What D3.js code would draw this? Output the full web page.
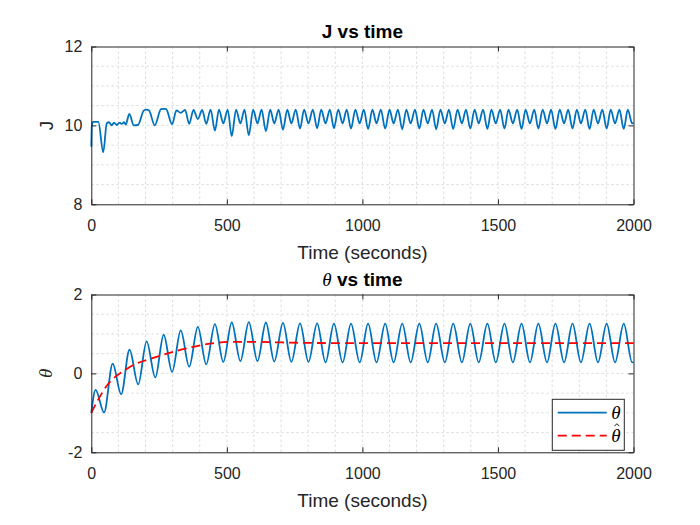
<!DOCTYPE html>
<html>
<head>
<meta charset="utf-8">
<script src="https://cdn.jsdelivr.net/npm/d3@7"></script>
<style>
  body { margin: 0; background: #fff; }
  svg { display: block; font-family: "Liberation Sans", Arial, sans-serif; }
</style>
</head>
<body>
<div id="chart"></div>
<script>
// ---- data ----
const xTicks = [0, 500, 1000, 1500, 2000];
const xMinor = [100, 200, 300, 400, 600, 700, 800, 900, 1100, 1200, 1300, 1400, 1600, 1700, 1800, 1900];
const jTicks = [8, 10, 12];
const jMinor = [8.5, 9, 9.5, 10.5, 11, 11.5];
const thetaTicks = [-2, 0, 2];
const thetaMinor = [-1.5, -1, -0.5, 0.5, 1, 1.5];

// J(t): extrema of the cost signal
const jTime = [
  0, 2, 6, 26, 44, 57, 65, 75, 84, 94, 104, 112, 121, 127, 140, 157, 172, 194, 204, 213, 234, 257, 267, 276,
  298, 314, 330, 346,   361, 377, 393, 409,   424, 440, 456, 471,   487, 503, 518, 534,
  550, 565, 581, 597,   613, 628, 644, 660,   675, 691, 707, 723,   738, 754, 770, 785,
  801, 817, 833, 848,   864, 880, 895, 911,   927, 942, 958, 974,   990, 1005, 1021, 1037,
  1052, 1068, 1084, 1100,   1115, 1131, 1147, 1162,   1178, 1194, 1210, 1225,   1241, 1257, 1272, 1288,
  1304, 1319, 1335, 1351,   1367, 1382, 1398, 1414,   1429, 1445, 1461, 1476,   1492, 1508, 1524, 1539,
  1555, 1571, 1587, 1602,   1618, 1634, 1649, 1665,   1681, 1696, 1712, 1728,   1744, 1759, 1775, 1791,
  1806, 1822, 1838, 1853,   1869, 1885, 1901, 1916,   1932, 1948, 1964, 1979,   1995, 2000
];
const jValue = [
  9.46, 9.98, 10.09, 10.09, 9.32, 10.05, 10.08, 10.00, 10.07, 10.01, 10.07, 10.04, 10.08, 10.02, 10.29, 10.00, 10.01, 10.38, 10.40, 10.38, 10.00, 10.41, 10.42, 10.41,
  10.03, 10.38, 10.32, 10.39,   10.04, 10.39, 10.16, 10.39,   10.04, 10.40, 9.87, 10.40,   10.05, 10.40, 9.73, 10.40,
  10.05, 10.40, 9.75, 10.40,   10.05, 10.40, 9.85, 10.40,   10.05, 10.40, 9.89, 10.40,   10.05, 10.40, 9.92, 10.40,
  10.05, 10.40, 9.93, 10.40,   10.05, 10.40, 9.93, 10.40,   10.05, 10.40, 9.92, 10.40,   10.05, 10.40, 9.91, 10.40,
  10.05, 10.40, 9.92, 10.40,   10.05, 10.40, 9.90, 10.40,   10.05, 10.40, 9.92, 10.40,   10.05, 10.40, 9.90, 10.40,
  10.05, 10.40, 9.91, 10.40,   10.05, 10.40, 9.92, 10.40,   10.05, 10.40, 9.91, 10.40,   10.05, 10.40, 9.92, 10.40,
  10.05, 10.40, 9.91, 10.40,   10.05, 10.40, 9.92, 10.40,   10.05, 10.40, 9.91, 10.40,   10.05, 10.40, 9.92, 10.40,
  10.05, 10.40, 9.91, 10.40,   10.05, 10.40, 9.92, 10.40,   10.05, 10.40, 9.91, 10.40,   10.05, 10.07
];

// theta(t): peaks and troughs of the dithered parameter
const thetaTime = [
  0, 16, 47, 79, 110, 141, 173, 204, 236, 267, 298, 330, 361, 393, 424, 456, 487, 518, 550, 581,
  613, 644, 675, 707, 738, 770, 801, 833, 864, 895, 927, 958, 990, 1021, 1052, 1084, 1115, 1147, 1178, 1210,
  1241, 1272, 1304, 1335, 1367, 1398, 1429, 1461, 1492, 1524, 1555, 1587, 1618, 1649, 1681, 1712, 1744, 1775, 1806, 1838,
  1869, 1901, 1932, 1964, 1995, 2000
];
const thetaValue = [
  -1.00, -0.42, -0.99, 0.25, -0.53, 0.60, -0.28, 0.81, -0.10, 0.98, 0.04, 1.09, 0.17, 1.18, 0.23, 1.25, 0.29, 1.29, 0.31, 1.30,
  0.31, 1.29, 0.30, 1.28, 0.29, 1.27, 0.29, 1.27, 0.28, 1.26, 0.28, 1.26, 0.28, 1.26, 0.28, 1.26, 0.28, 1.26, 0.28, 1.26,
  0.28, 1.26, 0.28, 1.26, 0.28, 1.26, 0.28, 1.26, 0.28, 1.26, 0.28, 1.26, 0.28, 1.26, 0.28, 1.26, 0.28, 1.26, 0.28, 1.26,
  0.28, 1.26, 0.28, 1.26, 0.28, 0.29
];

// theta-hat(t): the estimate
const hatTime = [0, 25, 55, 86, 123, 160, 209, 270, 331, 393, 454, 528, 600, 700, 850, 1100, 1500, 2000];
const hatValue = [-1.0, -0.67, -0.33, -0.10, 0.08, 0.23, 0.35, 0.48, 0.60, 0.70, 0.77, 0.80, 0.80, 0.785, 0.77, 0.765, 0.765, 0.765];

// ---- layout ----
const W = 700, H = 525;
const axisColor = "#262626";
const blue = "#0072BD";
const red = "#FF0000";

const svg = d3.select("#chart").append("svg")
    .attr("width", W)
    .attr("height", H)
    .attr("viewBox", [0, 0, W, H]);

const x = d3.scaleLinear().domain([0, 2000]).range([91.3, 633.5]);

function drawPanel(top, bottom, domain, ticks, minor) {
    const y = d3.scaleLinear().domain(domain).range([bottom, top]);
    const g = svg.append("g");

    // grid (major + minor, MATLAB style dotted)
    const grid = g.append("g")
        .attr("stroke", "#dedede")
        .attr("stroke-width", 1)
        .attr("stroke-dasharray", "2.5,2.5");
    grid.selectAll(".vx")
        .data(xMinor.concat(xTicks.slice(1, -1)))
        .join("line")
        .attr("x1", d => x(d)).attr("x2", d => x(d))
        .attr("y1", top).attr("y2", bottom);
    grid.selectAll(".hy")
        .data(minor.concat(ticks.slice(1, -1)))
        .join("line")
        .attr("x1", x.range()[0]).attr("x2", x.range()[1])
        .attr("y1", d => y(d)).attr("y2", d => y(d));

    return { g, y };
}

function drawAxes(g, y, top, bottom, ticks) {
    const fmt = d => String(d);
    const bx = g.append("g")
        .attr("transform", `translate(0,${bottom})`)
        .call(d3.axisBottom(x).tickValues(xTicks).tickFormat(fmt).tickSize(-5).tickSizeOuter(0).tickPadding(15));
    const lx = g.append("g")
        .attr("transform", `translate(${x.range()[0]},0)`)
        .call(d3.axisLeft(y).tickValues(ticks).tickFormat(fmt).tickSize(-5).tickSizeOuter(0).tickPadding(9));
    const tx = g.append("g")
        .attr("transform", `translate(0,${top})`)
        .call(d3.axisTop(x).tickValues(xTicks).tickFormat("").tickSize(-5).tickSizeOuter(0));
    const rx = g.append("g")
        .attr("transform", `translate(${x.range()[1]},0)`)
        .call(d3.axisRight(y).tickValues(ticks).tickFormat("").tickSize(-5).tickSizeOuter(0));

    [bx, lx, tx, rx].forEach(a => {
        a.attr("font-family", null);
        a.select(".domain").attr("stroke", axisColor);
        a.selectAll(".tick line").attr("stroke", axisColor);
        a.selectAll(".tick text")
            .attr("fill", axisColor)
            .attr("font-size", "16px");
    });
}

function timeLabel(baseline) {
    svg.append("text")
        .attr("x", 362.4)
        .attr("y", baseline)
        .attr("text-anchor", "middle")
        .attr("font-size", "19px")
        .attr("fill", axisColor)
        .text("Time (seconds)");
}

// ---- top panel: J ----
const p1 = drawPanel(46.5, 204.3, [8, 12], jTicks, jMinor);
const jLine = d3.line()
    .x((d, i) => x(jTime[i]))
    .y(d => p1.y(d))
    .curve(d3.curveMonotoneX);
p1.g.append("path")
    .datum(jValue)
    .attr("fill", "none")
    .attr("stroke", blue)
    .attr("stroke-width", 1.8)
    .attr("stroke-linejoin", "round")
    .attr("d", jLine);
drawAxes(p1.g, p1.y, 46.5, 204.3, jTicks);

svg.append("text")
    .attr("x", 362.4).attr("y", 38.3)
    .attr("text-anchor", "middle")
    .attr("font-size", "19px")
    .attr("font-weight", "bold")
    .attr("fill", "#000")
    .text("J vs time");
svg.append("text")
    .attr("transform", "translate(53,125.4) rotate(-90)")
    .attr("text-anchor", "middle")
    .attr("font-size", "19px")
    .attr("fill", axisColor)
    .text("J");
timeLabel(259);

// ---- bottom panel: theta ----
const p2 = drawPanel(294.5, 452.3, [-2, 2], thetaTicks, thetaMinor);
const thetaLine = d3.line()
    .x((d, i) => x(thetaTime[i]))
    .y(d => p2.y(d))
    .curve(d3.curveMonotoneX);
const hatLine = d3.line()
    .x((d, i) => x(hatTime[i]))
    .y(d => p2.y(d))
    .curve(d3.curveMonotoneX);
p2.g.append("path")
    .datum(thetaValue)
    .attr("fill", "none")
    .attr("stroke", blue)
    .attr("stroke-width", 1.8)
    .attr("d", thetaLine);
p2.g.append("path")
    .datum(hatValue)
    .attr("fill", "none")
    .attr("stroke", red)
    .attr("stroke-width", 1.8)
    .attr("stroke-dasharray", "9,5")
    .attr("d", hatLine);
drawAxes(p2.g, p2.y, 294.5, 452.3, thetaTicks);

const t2 = svg.append("text")
    .attr("x", 362.4).attr("y", 285.7)
    .attr("text-anchor", "middle")
    .attr("font-size", "19px")
    .attr("fill", "#000");
t2.append("tspan")
    .attr("font-family", "Liberation Serif, serif")
    .attr("font-style", "italic")
    .text("θ");
t2.append("tspan")
    .attr("font-weight", "bold")
    .text(" vs time");

svg.append("text")
    .attr("transform", "translate(52,373.4) rotate(-90)")
    .attr("text-anchor", "middle")
    .attr("font-size", "19px")
    .attr("font-family", "Liberation Serif, serif")
    .attr("font-style", "italic")
    .attr("fill", axisColor)
    .text("θ");
timeLabel(507.2);

// legend
const legend = svg.append("g").attr("transform", "translate(552.3,399.3)");
legend.append("rect")
    .attr("width", 72).attr("height", 51)
    .attr("fill", "#fff")
    .attr("stroke", axisColor)
    .attr("stroke-width", 1);
const entries = [
    { label: "θ", color: blue, dash: null, hat: false },
    { label: "θ", color: red, dash: "9,5", hat: true }
];
entries.forEach((e, i) => {
    const cy = 13.4 + i * 23;
    legend.append("line")
        .attr("x1", 5.4).attr("x2", 54.4)
        .attr("y1", cy).attr("y2", cy)
        .attr("stroke", e.color)
        .attr("stroke-width", 1.8)
        .attr("stroke-dasharray", e.dash);
    legend.append("text")
        .attr("x", 59).attr("y", cy + 6)
        .attr("font-size", "19px")
        .attr("font-family", "Liberation Serif, serif")
        .attr("font-style", "italic")
        .attr("fill", "#000")
        .text(e.label);
    if (e.hat) {
        // circumflex accent drawn as a small stroke above the glyph
        legend.append("path")
            .attr("d", `M${62.2},${cy - 9.5} L${64.6},${cy - 12} L${67},${cy - 9.5}`)
            .attr("fill", "none")
            .attr("stroke", "#000")
            .attr("stroke-width", 0.9);
    }
});
</script>
</body>
</html>
